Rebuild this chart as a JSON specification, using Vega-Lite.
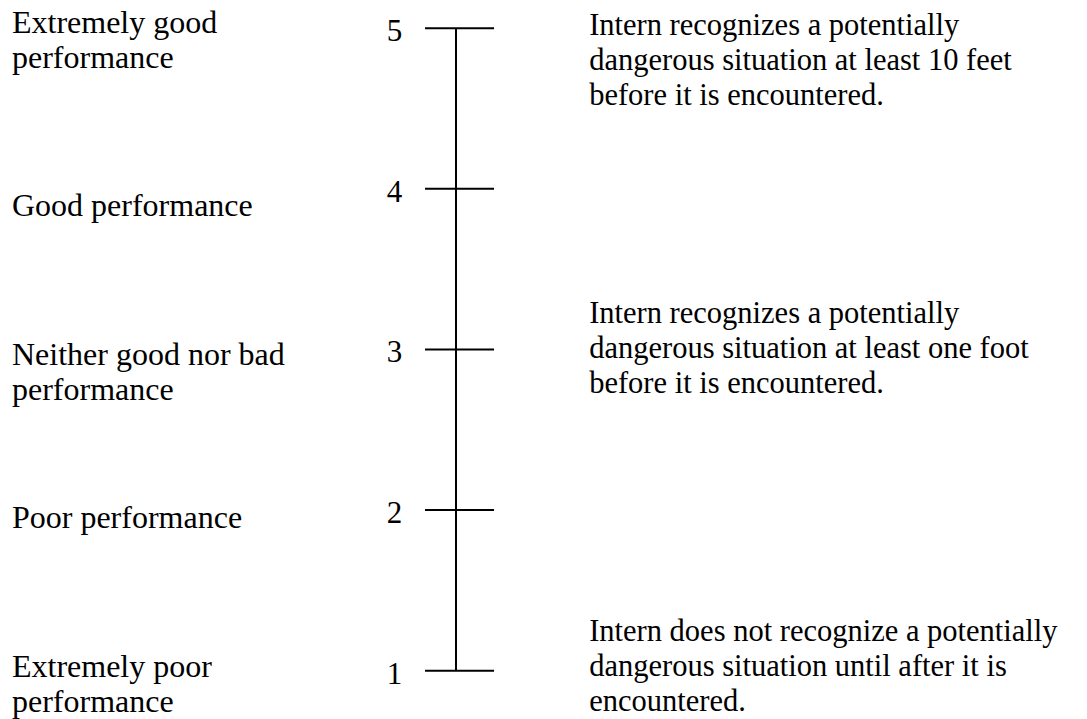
{
  "$schema": "https://vega.github.io/schema/vega-lite/v6.json",
  "autosize": {"type": "fit", "contains": "padding"},
  "width": 1087,
  "height": 719,
  "padding": 0,
  "background": "white",
  "config": {"view": {"stroke": null}},
  "datasets": {
    "scale": [{"rating": 1}, {"rating": 2}, {"rating": 3}, {"rating": 4}, {"rating": 5}],
    "anchors": [
      {"side": "left", "text": "Extremely good\nperformance", "level": 4.968},
      {"side": "left", "text": "Good performance", "level": 3.832},
      {"side": "left", "text": "Neither good nor bad\nperformance", "level": 2.906},
      {"side": "left", "text": "Poor performance", "level": 1.886},
      {"side": "left", "text": "Extremely poor\nperformance", "level": 0.960},
      {"side": "right", "text": "Intern recognizes a potentially\ndangerous situation at least 10 feet\nbefore it is encountered.", "level": 4.958},
      {"side": "right", "text": "Intern recognizes a potentially\ndangerous situation at least one foot\nbefore it is encountered.", "level": 3.167},
      {"side": "right", "text": "Intern does not recognize a potentially\ndangerous situation until after it is\nencountered.", "level": 1.184}
    ]
  },
  "layer": [
    {
      "data": {"name": "scale"},
      "mark": {"type": "rule", "strokeWidth": 2, "color": "black"},
      "encoding": {
        "x": {"datum": 39.1, "type": "quantitative", "scale": {"domain": [0, 100], "nice": false, "zero": false}, "axis": null},
        "x2": {"datum": 45.45},
        "y": {"field": "rating", "type": "quantitative", "scale": {"domain": [0.7053, 5.1753], "nice": false, "zero": false}, "axis": null}
      }
    },
    {
      "data": {"name": "scale"},
      "mark": {"type": "rule", "strokeWidth": 2, "color": "black"},
      "encoding": {
        "x": {"datum": 41.95, "type": "quantitative"},
        "y": {"aggregate": "min", "field": "rating", "type": "quantitative"},
        "y2": {"aggregate": "max", "field": "rating"}
      }
    },
    {
      "data": {"name": "scale"},
      "mark": {"type": "text", "font": "Liberation Serif", "fontSize": 31, "align": "right", "baseline": "alphabetic", "dy": 13, "color": "black"},
      "encoding": {
        "x": {"datum": 37.0, "type": "quantitative"},
        "y": {"field": "rating", "type": "quantitative"},
        "text": {"field": "rating", "type": "nominal"}
      }
    },
    {
      "data": {"name": "anchors"},
      "transform": [{"filter": "datum.side === 'left'"}],
      "mark": {"type": "text", "font": "Liberation Serif", "fontSize": 32, "align": "left", "baseline": "alphabetic", "lineBreak": "\n", "lineHeight": 35, "color": "black"},
      "encoding": {
        "x": {"datum": 1.1, "type": "quantitative"},
        "y": {"field": "level", "type": "quantitative"},
        "text": {"field": "text", "type": "nominal"}
      }
    },
    {
      "data": {"name": "anchors"},
      "transform": [{"filter": "datum.side === 'right'"}],
      "mark": {"type": "text", "font": "Liberation Serif", "fontSize": 30.5, "align": "left", "baseline": "alphabetic", "lineBreak": "\n", "lineHeight": 35, "color": "black"},
      "encoding": {
        "x": {"datum": 54.2, "type": "quantitative"},
        "y": {"field": "level", "type": "quantitative"},
        "text": {"field": "text", "type": "nominal"}
      }
    }
  ]
}
